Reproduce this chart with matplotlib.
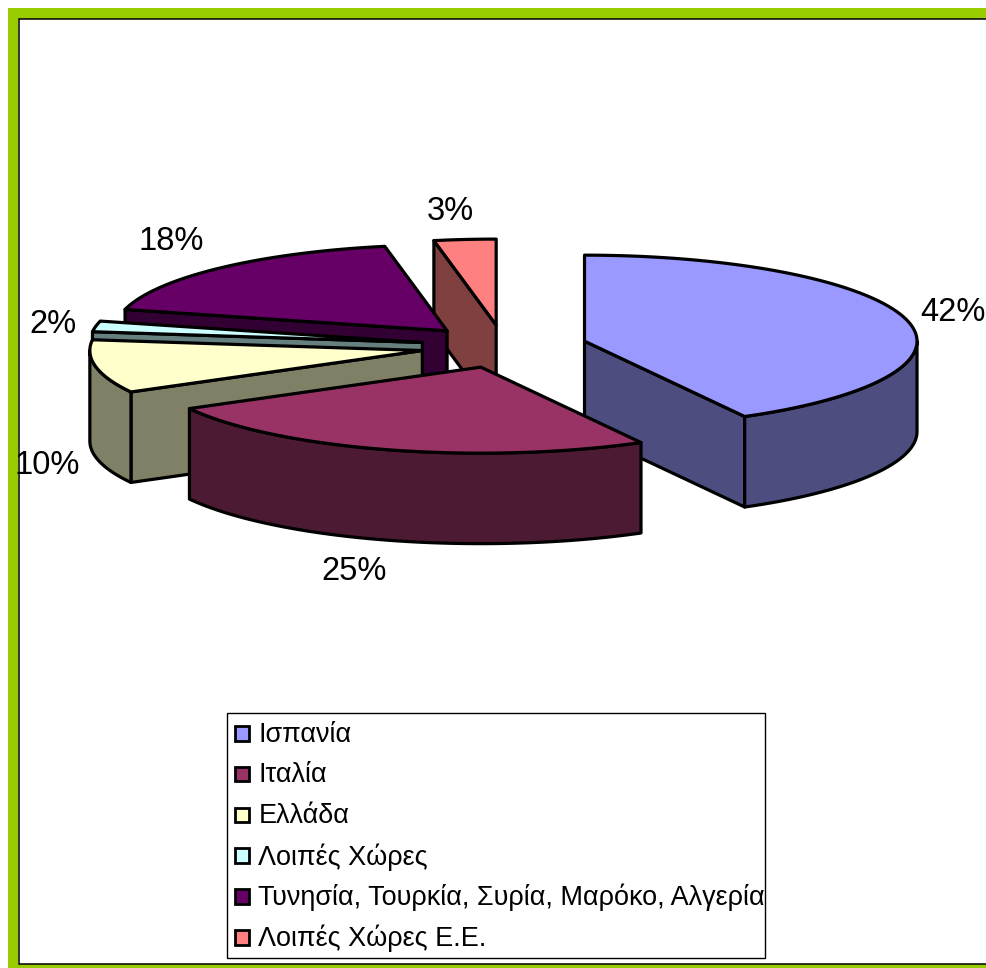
import numpy as np
import matplotlib
matplotlib.use("Agg")
import matplotlib.pyplot as plt
from matplotlib.patches import Polygon, Rectangle

labels = ["Ισπανία", "Ιταλία", "Ελλάδα", "Λοιπές Χώρες",
          "Τυνησία, Τουρκία, Συρία, Μαρόκο, Αλγερία", "Λοιπές Χώρες Ε.Ε."]
values = [42, 25, 10, 2, 18, 3]
top_colors = ["#9999FF", "#993366", "#FFFFCC", "#CCFFFF", "#660066", "#FF8080"]
side_colors = ["#4D4D80", "#4D1A33", "#808066", "#668080", "#330033", "#804040"]
label_pos = [(953, 312.5), (354, 571.5), (47, 465.5), (53, 324.5), (171, 242), (450, 211.5)]
paint_order = [5, 4, 3, 2, 0, 1]

W, H = 987, 968
CX, CY, RX, RY, DEPTH, EXPLODE = 504, 346.5, 332.5, 86, 90.5, 0.25
FONT = ["Liberation Sans", "DejaVu Sans"]

fig = plt.figure(figsize=(W / 100, H / 100), dpi=100, facecolor="white")
ax = fig.add_axes([0, 0, 1, 1])
ax.set_xlim(0, W)
ax.set_ylim(H, 0)
ax.axis("off")

# frame
GREEN = "#99CC00"
ax.add_patch(Rectangle((8, 8), W, 10.5, fc=GREEN, ec="none"))
ax.add_patch(Rectangle((8, 8), 10, H, fc=GREEN, ec="none"))
ax.add_patch(Rectangle((8, 963.5), W, 5, fc=GREEN, ec="none"))
ax.plot([W, 18.5, 18.5, W], [19, 19, 963.5, 963.5], color="black", lw=1.1,
        solid_joinstyle="miter", zorder=2)


def pt(c, a, z=0):
    r = np.radians(a)
    return (c[0] + RX * np.sin(r), c[1] - RY * np.cos(r) + z)


fracs = np.array(values, float) / sum(values)
edges = np.concatenate([[0], np.cumsum(fracs) * 360])
LW = 2.3
z = 5
for i in paint_order:
    a0, a1 = edges[i], edges[i + 1]
    mid = np.radians((a0 + a1) / 2)
    c = (CX + EXPLODE * RX * np.sin(mid), CY - EXPLODE * RY * np.cos(mid))
    kw = dict(ec="black", lw=LW, joinstyle="round", fc=side_colors[i])

    # cut walls that face the viewer
    for a, visible in ((a0, np.sin(np.radians(a0)) < -1e-6),
                       (a1, np.sin(np.radians(a1)) > 1e-6)):
        if visible:
            p = pt(c, a)
            ax.add_patch(Polygon([c, p, (p[0], p[1] + DEPTH), (c[0], c[1] + DEPTH)],
                                 zorder=z, **kw))
            z += 1
    # outer curved wall
    lo, hi = max(a0, 90), min(a1, 270)
    if hi > lo:
        arc = np.linspace(lo, hi, 80)
        upper = [pt(c, a) for a in arc]
        lower = [pt(c, a, DEPTH) for a in arc[::-1]]
        ax.add_patch(Polygon(upper + lower, zorder=z, **kw))
        z += 1
    # top face
    arc = np.linspace(a0, a1, 120)
    ax.add_patch(Polygon([c] + [pt(c, a) for a in arc], ec="black", lw=LW,
                         joinstyle="round", fc=top_colors[i], zorder=z))
    z += 1

for v, (x, y) in zip(values, label_pos):
    ax.text(x, y, f"{v}%", family=FONT, fontsize=23.5, color="black",
            ha="center", va="center", zorder=100)

# legend
ax.add_patch(Rectangle((227, 713), 538, 245, fc="white", ec="black", lw=1.0, zorder=50))
for k, (name, col) in enumerate(zip(labels, top_colors)):
    y = 733.5 + k * 40.8
    ax.add_patch(Rectangle((235, y - 7.5), 14, 14.5, fc=col, ec="black", lw=2.0, zorder=51))
    ax.text(258.5, y + 1, name, family=FONT, fontsize=19.45, color="black",
            ha="left", va="center", zorder=52)

fig.savefig("out.png", dpi=100, facecolor="white")
